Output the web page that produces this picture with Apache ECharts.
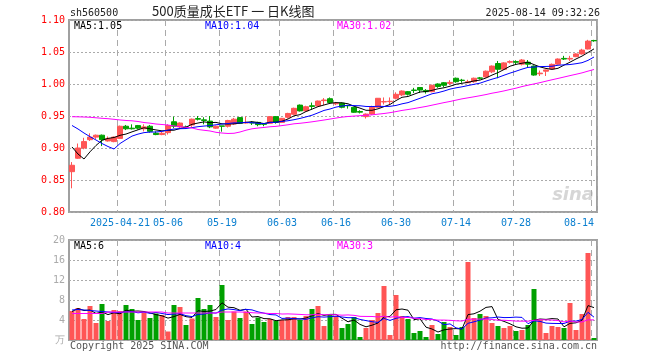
<!DOCTYPE html>
<html><head><meta charset="utf-8">
<script src="https://cdn.jsdelivr.net/npm/echarts@6/dist/echarts.min.js"></script>
<style>html,body{margin:0;padding:0;background:#fff}#c{width:660px;height:360px}</style>
</head><body><div id="c"></div>
<script>
const dates = [
'2025-04-09','2025-04-10','2025-04-11','2025-04-14','2025-04-15','2025-04-16','2025-04-17','2025-04-18','2025-04-21','2025-04-22',
'2025-04-23','2025-04-24','2025-04-25','2025-04-28','2025-04-29','2025-04-30','2025-05-06','2025-05-07','2025-05-08','2025-05-09',
'2025-05-12','2025-05-13','2025-05-14','2025-05-15','2025-05-16','2025-05-19','2025-05-20','2025-05-21','2025-05-22','2025-05-23',
'2025-05-26','2025-05-27','2025-05-28','2025-05-29','2025-05-30','2025-06-03','2025-06-04','2025-06-05','2025-06-06','2025-06-09',
'2025-06-10','2025-06-11','2025-06-12','2025-06-13','2025-06-16','2025-06-17','2025-06-18','2025-06-19','2025-06-20','2025-06-23',
'2025-06-24','2025-06-25','2025-06-26','2025-06-27','2025-06-30','2025-07-01','2025-07-02','2025-07-03','2025-07-04','2025-07-07',
'2025-07-08','2025-07-09','2025-07-10','2025-07-11','2025-07-14','2025-07-15','2025-07-16','2025-07-17','2025-07-18','2025-07-21',
'2025-07-22','2025-07-23','2025-07-24','2025-07-25','2025-07-28','2025-07-29','2025-07-30','2025-07-31','2025-08-01','2025-08-04',
'2025-08-05','2025-08-06','2025-08-07','2025-08-08','2025-08-11','2025-08-12','2025-08-13','2025-08-14'];

const opens = [
0.863,0.884,0.900,0.913,0.917,0.920,0.911,0.910,0.915,0.934,
0.931,0.935,0.930,0.934,0.923,0.921,0.924,0.941,0.933,0.933,
0.936,0.946,0.944,0.942,0.931,0.9345,0.934,0.9375,0.9475,0.939,
0.940,0.940,0.938,0.9386,0.949,0.940,0.948,0.9527,0.967,0.958,
0.966,0.9656,0.974,0.977,0.969,0.970,0.9665,0.9636,0.957,0.949,
0.953,0.9636,0.972,0.9725,0.9777,0.983,0.988,0.9905,0.9945,0.990,
0.988,1.000,1.002,1.001,1.009,1.006,1.002,1.0036,1.0095,1.011,
1.019,1.032,1.023,1.034,1.035,1.031,1.034,1.028,1.016,1.020,
1.0234,1.031,1.040,1.039,1.0427,1.047,1.0547,1.068];
const closes = [
0.873,0.900,0.910,0.917,0.920,0.913,0.915,0.917,0.934,0.930,
0.930,0.931,0.933,0.926,0.921,0.923,0.935,0.934,0.939,0.932,
0.945,0.945,0.943,0.933,0.934,0.934,0.943,0.945,0.9386,0.940,
0.939,0.9365,0.937,0.949,0.940,0.9464,0.954,0.962,0.958,0.9645,
0.965,0.9734,0.975,0.971,0.970,0.9636,0.966,0.9558,0.956,0.953,
0.9636,0.9777,0.9725,0.973,0.9839,0.989,0.984,0.990,0.9905,0.988,
0.998,0.996,0.998,1.0025,1.0036,1.0055,1.0035,1.009,1.009,1.020,
1.028,1.023,1.033,1.035,1.034,1.0375,1.031,1.014,1.017,1.022,
1.0307,1.039,1.039,1.040,1.047,1.053,1.067,1.0675];
const highs = [
0.878,0.907,0.916,0.923,0.921,0.921,0.918,0.918,0.935,0.936,
0.937,0.936,0.937,0.936,0.926,0.925,0.937,0.949,0.940,0.935,
0.946,0.950,0.948,0.950,0.935,0.9345,0.944,0.947,0.948,0.949,
0.942,0.941,0.939,0.950,0.950,0.947,0.955,0.963,0.968,0.966,
0.971,0.974,0.978,0.979,0.972,0.971,0.967,0.964,0.959,0.954,
0.966,0.978,0.979,0.979,0.987,0.990,0.989,0.994,0.995,0.992,
0.999,1.001,1.003,1.006,1.010,1.008,1.0066,1.010,1.011,1.021,
1.029,1.036,1.034,1.037,1.037,1.039,1.0375,1.029,1.021,1.0225,
1.032,1.040,1.044,1.044,1.048,1.055,1.069,1.069];
const lows = [
0.837,0.883,0.898,0.911,0.914,0.903,0.910,0.909,0.914,0.928,
0.929,0.929,0.926,0.924,0.920,0.920,0.921,0.931,0.931,0.930,
0.933,0.943,0.937,0.931,0.930,0.9255,0.932,0.936,0.938,0.938,
0.936,0.934,0.934,0.9386,0.938,0.939,0.946,0.9516,0.957,0.957,
0.960,0.965,0.967,0.970,0.967,0.962,0.9615,0.955,0.954,0.946,
0.9516,0.963,0.968,0.968,0.976,0.981,0.982,0.986,0.986,0.985,
0.987,0.994,0.995,0.9985,1.002,1.002,1.0014,1.002,1.007,1.010,
1.017,1.009,1.022,1.032,1.031,1.029,1.026,1.013,1.0125,1.0125,
1.023,1.030,1.0375,1.036,1.042,1.046,1.054,1.066];

const volumes = [
5.8,6.4,4.2,6.8,3.4,7.2,3.8,6.0,5.8,7.0,
6.2,4.0,5.5,4.4,5.3,5.0,1.7,7.0,6.6,3.0,
4.3,8.4,6.2,7.0,4.6,11.0,4.0,5.7,4.4,5.7,
3.2,4.5,3.6,4.2,3.8,4.0,4.6,4.6,4.0,4.8,
6.2,6.8,2.8,5.0,4.8,2.4,3.2,4.6,0.6,2.4,
4.0,5.4,10.8,1.0,9.0,4.8,4.2,1.4,1.8,0.6,
3.0,1.2,3.6,2.6,1.0,2.6,15.6,4.4,5.2,4.8,
3.4,2.8,2.4,2.8,1.8,2.0,3.0,10.2,4.0,1.4,
2.8,2.6,2.4,7.4,2.0,5.2,17.4,0.4];

// moving-average values for days whose window starts before the visible range
const ma5Head = [0.9016,0.8906,0.8828,0.894];
const ma10Head = [0.9352,0.9297,0.9234,0.9177,0.9125,0.907,0.9023,0.8984,0.907];
const ma30Head = [0.9489,0.9487,0.9484,0.948,0.9472,0.9464,0.9458,0.9448,0.9438,0.943,
0.9425,0.9414,0.9398,0.9388,0.9375,0.9367,0.9359,0.9344,0.9333,0.9323,
0.9313,0.9289,0.9277,0.9266,0.9245,0.9234,0.9227,0.923,0.925];
const vma5Head = [5.7,6.3,5.9,6.0];
const vma10Head = [6.0,6.1,6.0,5.9,5.8,5.7,5.6,5.5,5.5];
const vma30Head = [5.3,5.3,5.3,5.3,5.3,5.3,5.6,5.6,5.6,5.6,
5.6,5.6,5.6,5.6,5.6,5.6,5.4,5.4,5.4,5.4,
5.4,5.4,5.4,5.4,5.4,5.6,5.6,5.6,5.6];

const tickDates = ['2025-04-21','2025-05-06','2025-05-19','2025-06-03','2025-06-16','2025-06-30','2025-07-14','2025-07-28','2025-08-14'];
const tickLabels = ['2025-04-21','05-06','05-19','06-03','06-16','06-30','07-14','07-28','08-14'];
const priceTicks = {min:0.80, max:1.10, step:0.05};
const volTicks = {min:0, max:20, step:4};
const legendPrice = ['MA5:1.05','MA10:1.04','MA30:1.02'];
const legendVol = ['MA5:6','MA10:4','MA30:3'];

const RED = '#ff5555', GREEN = '#00a000';
const MONO = '"DejaVu Sans Mono", monospace';

function ma(arr, n, head){
  return arr.map((v,i)=>{
    if(i < n-1) return head[i];
    let s=0; for(let k=i-n+1;k<=i;k++) s+=arr[k];
    return +(s/n).toFixed(4);
  });
}
const tickIdx = tickDates.map(d=>dates.indexOf(d));
const isTick = i => tickIdx.indexOf(i) >= 0;
const kData = dates.map((d,i)=>[opens[i],closes[i],lows[i],highs[i]]);
const volData = volumes.map((v,i)=>({value:v, itemStyle:{color: closes[i]>=opens[i]?RED:GREEN}}));

const chart = echarts.init(document.getElementById('c'), null, {renderer:'canvas'});
const gridL = 69, gridW = 528;
const vSplit = {show:true, interval:(i)=>isTick(i), lineStyle:{color:'#aaa', type:[6,4], width:1}};
const hSplit = {show:true, lineStyle:{color:'#aaa', type:[2,2], width:1}};
function lineS(name, data, color, xi){
  return {name, type:'line', data, xAxisIndex:xi, yAxisIndex:xi, symbol:'none', silent:true,
    lineStyle:{color, width:1}, itemStyle:{color}, z:5};
}
chart.setOption({
  animation:false,
  backgroundColor:'#fff',
  grid:[
    {left:gridL, top:20, width:gridW, height:192, show:true, borderColor:'#a0a0a0', borderWidth:2},
    {left:gridL, top:240, width:gridW, height:100, show:true, borderColor:'#a0a0a0', borderWidth:2}
  ],
  xAxis:[
    {type:'category', gridIndex:0, data:dates, boundaryGap:true,
     axisLine:{show:false}, axisTick:{show:false},
     axisLabel:{interval:(i)=>isTick(i), margin:6, color:'#0a7fd0', fontFamily:MONO, fontSize:10,
       formatter:(v,i)=>{const k=tickDates.indexOf(v); if(k===tickDates.length-1) return '{r|'+tickLabels[k]+'}'; return tickLabels[k];},
       rich:{r:{color:'#0a7fd0', fontFamily:MONO, fontSize:10, padding:[0,30,0,0]}}},
     splitLine:vSplit},
    {type:'category', gridIndex:1, data:dates, boundaryGap:true,
     axisLine:{show:false}, axisTick:{show:false}, axisLabel:{show:false}, splitLine:vSplit}
  ],
  yAxis:[
    {type:'value', gridIndex:0, min:priceTicks.min, max:priceTicks.max, interval:priceTicks.step,
     axisLine:{show:false}, axisTick:{show:false},
     axisLabel:{formatter:v=>v.toFixed(2), color:'#ff0000', fontFamily:MONO, fontSize:10, margin:4},
     splitLine:hSplit},
    {type:'value', gridIndex:1, min:volTicks.min, max:volTicks.max, interval:volTicks.step,
     axisLine:{show:false}, axisTick:{show:false},
     axisLabel:{formatter:v=>v===0?'万':String(v), color:'#aaa', fontFamily:MONO, fontSize:10, margin:4},
     splitLine:hSplit}
  ],
  series:[
    {type:'candlestick', data:kData, xAxisIndex:0, yAxisIndex:0, barWidth:5, silent:true,
     itemStyle:{color:RED, color0:GREEN, borderColor:RED, borderColor0:GREEN, borderWidth:1}},
    lineS('MA5', ma(closes,5,ma5Head), '#000000', 0),
    lineS('MA10', ma(closes,10,ma10Head), '#0000ff', 0),
    lineS('MA30', ma(closes,30,ma30Head), '#ff00ff', 0),
    {type:'bar', data:volData, xAxisIndex:1, yAxisIndex:1, barWidth:5, silent:true},
    lineS('VMA5', ma(volumes,5,vma5Head), '#000000', 1),
    lineS('VMA10', ma(volumes,10,vma10Head), '#0000ff', 1),
    lineS('VMA30', ma(volumes,30,vma30Head), '#ff00ff', 1)
  ],
  graphic:[
    {type:'text', left:70, top:8, style:{text:'sh560500', font:'10px '+MONO, fill:'#222'}},
    {type:'text', left:152, top:5, style:{text:'500质量成长ETF 一 日K线图', font:'13px "Noto Sans CJK SC"', fill:'#222'}},
    {type:'text', right:60, top:8, style:{text:'2025-08-14 09:32:26', font:'10px '+MONO, fill:'#222'}},
    {type:'text', left:74, top:21, style:{text:legendPrice[0], font:'10px '+MONO, fill:'#000'}, z:10},
    {type:'text', left:205, top:21, style:{text:legendPrice[1], font:'10px '+MONO, fill:'#0000ff'}, z:10},
    {type:'text', left:337, top:21, style:{text:legendPrice[2], font:'10px '+MONO, fill:'#ff00ff'}, z:10},
    {type:'text', left:74, top:241, style:{text:legendVol[0], font:'10px '+MONO, fill:'#000'}, z:10},
    {type:'text', left:205, top:241, style:{text:legendVol[1], font:'10px '+MONO, fill:'#0000ff'}, z:10},
    {type:'text', left:337, top:241, style:{text:legendVol[2], font:'10px '+MONO, fill:'#ff00ff'}, z:10},
    {type:'text', right:66, top:186, style:{text:'sina', font:'italic bold 18px "DejaVu Sans"', fill:'#d6d6d6'}},
    {type:'text', left:70, top:341, style:{text:'Copyright 2025 SINA.COM', font:'10px '+MONO, fill:'#555'}},
    {type:'text', right:63, top:341, style:{text:'http://finance.sina.com.cn', font:'10px '+MONO, fill:'#555'}}
  ]
});
</script></body></html>
